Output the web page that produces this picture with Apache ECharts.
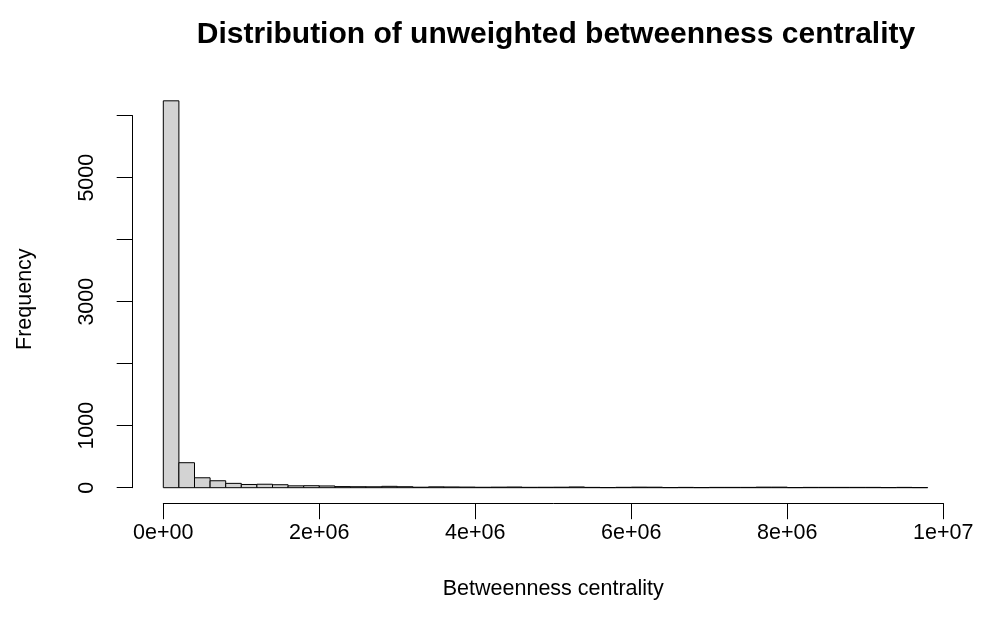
<!DOCTYPE html>
<html>
<head>
<meta charset="utf-8">
<title>Distribution of unweighted betweenness centrality</title>
<script src="https://cdn.jsdelivr.net/npm/echarts@6/dist/echarts.min.js"></script>
<style>
  html, body { margin: 0; padding: 0; background: #ffffff; }
  #chart { width: 983px; height: 628px; }
</style>
</head>
<body>
<div id="chart"></div>
<script>
// Histogram bins: width of each bin and the count in each bin, starting at 0
const binWidth = 200000;
const counts = [
  6240, 403, 160, 112, 70, 52, 56, 48, 30, 32,
  28, 18, 16, 15, 22, 16, 8, 14, 12, 10,
  7, 9, 11, 6, 7, 8, 12, 5, 2, 6,
  9, 8, 2, 5, 2, 5, 5, 5, 9, 9,
  2, 5, 5, 5, 5, 5, 2, 5, 2
];
// Axis ticks and which y ticks carry a label
const xTicks = [0, 2000000, 4000000, 6000000, 8000000, 10000000];
const yTicks = [0, 1000, 2000, 3000, 4000, 5000, 6000];
const yLabelled = [0, 1000, 3000, 5000];

const titleText = 'Distribution of unweighted betweenness centrality';
const xName = 'Betweenness centrality';
const yName = 'Frequency';

const FONT = "'Liberation Sans', Arial, Helvetica, sans-serif";
const AXIS_FS = 21.5;

// R-style scientific notation, e.g. 2e+06
function sci(v) {
  if (v === 0) return '0e+00';
  const e = Math.floor(Math.log10(Math.abs(v)) + 1e-9);
  const m = Math.round(v / Math.pow(10, e));
  return m + 'e' + (e >= 0 ? '+' : '-') + String(Math.abs(e)).padStart(2, '0');
}

const bins = counts.map((c, i) => [i * binWidth, (i + 1) * binWidth, c]);

const chart = echarts.init(document.getElementById('chart'), null, { renderer: 'canvas' });

chart.setOption({
  backgroundColor: '#ffffff',
  animation: false,
  title: {
    text: titleText,
    left: 551,
    textAlign: 'center',
    top: 15,
    textStyle: { fontFamily: FONT, fontSize: 30, fontWeight: 'bold', color: '#000' }
  },
  grid: { left: 163.3, right: 39.7, top: 115.7, bottom: 140.3, containLabel: false },
  xAxis: {
    type: 'value',
    min: xTicks[0],
    max: xTicks[xTicks.length - 1],
    interval: xTicks[1] - xTicks[0],
    offset: 15.5,
    name: xName,
    nameLocation: 'middle',
    nameGap: 75,
    nameTextStyle: { fontFamily: FONT, fontSize: AXIS_FS, color: '#000' },
    axisLine: { show: true, onZero: false, lineStyle: { color: '#000', width: 1 } },
    axisTick: { show: true, length: 16, lineStyle: { color: '#000', width: 1 } },
    axisLabel: {
      margin: 19,
      fontFamily: FONT, fontSize: AXIS_FS, color: '#000',
      formatter: v => sci(v)
    },
    splitLine: { show: false }
  },
  yAxis: {
    type: 'value',
    min: yTicks[0],
    max: yTicks[yTicks.length - 1],
    interval: yTicks[1] - yTicks[0],
    offset: 30.6,
    name: yName,
    nameLocation: 'middle',
    nameRotate: 90,
    nameGap: 97,
    nameTextStyle: { fontFamily: FONT, fontSize: AXIS_FS, color: '#000', padding: [0, 0, 0, 5] },
    axisLine: { show: true, onZero: false, lineStyle: { color: '#000', width: 1 } },
    axisTick: { show: true, length: 16, lineStyle: { color: '#000', width: 1 } },
    axisLabel: {
      rotate: 90,
      margin: 35,
      fontFamily: FONT, fontSize: AXIS_FS, color: '#000',
      formatter: v => (yLabelled.indexOf(v) >= 0 ? String(v) : '')
    },
    splitLine: { show: false }
  },
  series: [{
    type: 'custom',
    clip: false,
    data: bins,
    encode: { x: [0, 1], y: 2 },
    renderItem: function (params, api) {
      const p0 = api.coord([api.value(0), api.value(2)]);
      const p1 = api.coord([api.value(1), 0]);
      return {
        type: 'rect',
        shape: { x: p0[0], y: p0[1], width: p1[0] - p0[0], height: p1[1] - p0[1] },
        style: { fill: '#d3d3d3', stroke: '#000000', lineWidth: 1 }
      };
    }
  }]
});
</script>
</body>
</html>
